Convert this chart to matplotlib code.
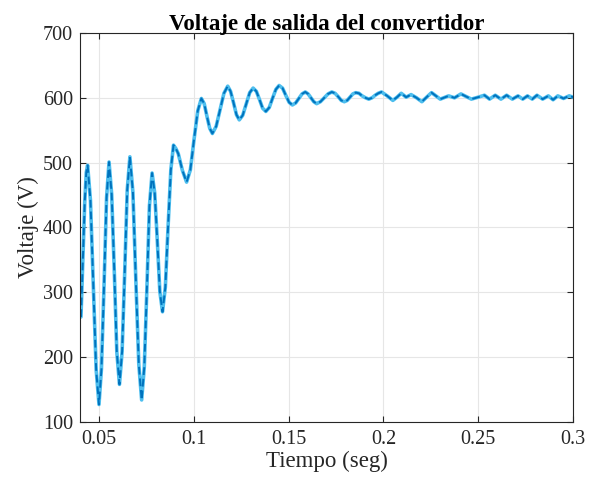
import matplotlib
matplotlib.use("Agg")
import matplotlib.pyplot as plt

# Time (s) and voltage (V)
t = [0.0405, 0.0415, 0.0425, 0.0433, 0.0440,
     0.0455, 0.0470, 0.0485, 0.0500,
     0.0513, 0.0527, 0.0540, 0.0553,
     0.0567, 0.0581, 0.0594, 0.0608,
     0.0622, 0.0636, 0.0649, 0.0663,
     0.0679, 0.0694, 0.0710, 0.0725,
     0.0739, 0.0753, 0.0766, 0.0780,
     0.0794, 0.0808, 0.0821, 0.0835,
     0.0850, 0.0864, 0.0879, 0.0893,
     0.0905, 0.0918, 0.0940, 0.0962,
     0.0982, 0.1001, 0.1021, 0.1040,
     0.1055, 0.1069, 0.1084, 0.1098,
     0.1118, 0.1139, 0.1159, 0.1179,
     0.1194, 0.1210, 0.1225, 0.1240,
     0.1258, 0.1277, 0.1295, 0.1313,
     0.1330, 0.1347, 0.1363, 0.1380,
     0.1398, 0.1415, 0.1433, 0.1450,
     0.1468, 0.1485, 0.1503, 0.1520,
     0.1537, 0.1554, 0.1571, 0.1588,
     0.1603, 0.1618, 0.1633, 0.1648,
     0.1668, 0.1688, 0.1708, 0.1728,
     0.1745, 0.1761, 0.1778, 0.1794,
     0.1809, 0.1824, 0.1839, 0.1854,
     0.1871, 0.1888, 0.1906, 0.1923,
     0.1940, 0.1957, 0.1973, 0.1990,
     0.2020, 0.2050, 0.2072, 0.2094,
     0.2120, 0.2146, 0.2175, 0.2203,
     0.2228, 0.2254, 0.2277, 0.2300,
     0.2344, 0.2375, 0.2409, 0.2436, 0.2464,
     0.2500, 0.2533, 0.2560, 0.2590, 0.2620,
     0.2650, 0.2680, 0.2710, 0.2735, 0.2760,
     0.2785, 0.2810, 0.2840, 0.2870, 0.2895,
     0.2920, 0.2950, 0.2980, 0.3000]
v = [262, 350, 440, 485, 496,
     442, 312, 181, 127,
     182, 314, 446, 501,
     451, 330, 208, 158,
     209, 334, 458, 509,
     454, 322, 189, 134,
     185, 309, 433, 484,
     453, 377, 301, 270,
     308, 399, 489, 527,
     522, 514, 488, 470,
     489, 535, 580, 599,
     591, 572, 553, 545,
     556, 582, 607, 618,
     610, 592, 574, 566,
     573, 591, 608, 615,
     610, 597, 584, 579,
     585, 599, 613, 619,
     615, 604, 593, 589,
     592, 599, 606, 609,
     606, 600, 594, 591,
     594, 600, 606, 609,
     607, 602, 596, 594,
     596, 601, 606, 608,
     607, 603, 600, 598,
     600, 604, 607, 609,
     603, 596, 601, 607,
     601, 605, 600, 594,
     601, 608, 603, 598,
     603, 600, 606, 602, 598,
     601, 604, 598, 604, 598,
     604, 598, 603, 598, 603,
     598, 604, 598, 603, 597,
     603, 599, 603, 601]

xticks = [0.05, 0.1, 0.15, 0.2, 0.25, 0.3]
xticklabels = ["0.05", "0.1", "0.15", "0.2", "0.25", "0.3"]
yticks = [100, 200, 300, 400, 500, 600, 700]

plt.rcParams['font.family'] = ['Liberation Serif', 'DejaVu Serif']

fig = plt.figure(figsize=(5.95, 4.83), dpi=100)
ax = fig.add_axes([0.1345, 0.1263, 0.963 - 0.1345, 0.9317 - 0.1263])

ax.plot(t, v, color='#4DBEEE', lw=2.6, solid_capstyle='round', solid_joinstyle='round')
ax.plot(t, v, color='#0072BD', lw=1.4, ls=(0, (4, 2)))

ax.set_xlim(0.04, 0.3)
ax.set_ylim(100, 700)
ax.set_xticks(xticks)
ax.set_xticklabels(xticklabels)
ax.set_yticks(yticks)
ax.grid(True, color='#e6e6e6', lw=0.8)
ax.set_axisbelow(True)
ax.tick_params(direction='in', top=True, right=True, labelsize=14.5, colors='#262626', length=4)
ax.tick_params(axis='x', pad=6)
ax.tick_params(axis='y', pad=5)
for s in ax.spines.values():
    s.set_color('#262626')
    s.set_linewidth(0.8)

ax.set_xlabel('Tiempo (seg)', fontsize=16.5, color='#262626', labelpad=1)
ax.set_ylabel('Voltaje (V)', fontsize=16.5, color='#262626', labelpad=3)
ax.set_title('Voltaje de salida del convertidor', fontsize=16.5, fontweight='bold', color='#000000', pad=2)

fig.savefig('out.png', dpi=100)
